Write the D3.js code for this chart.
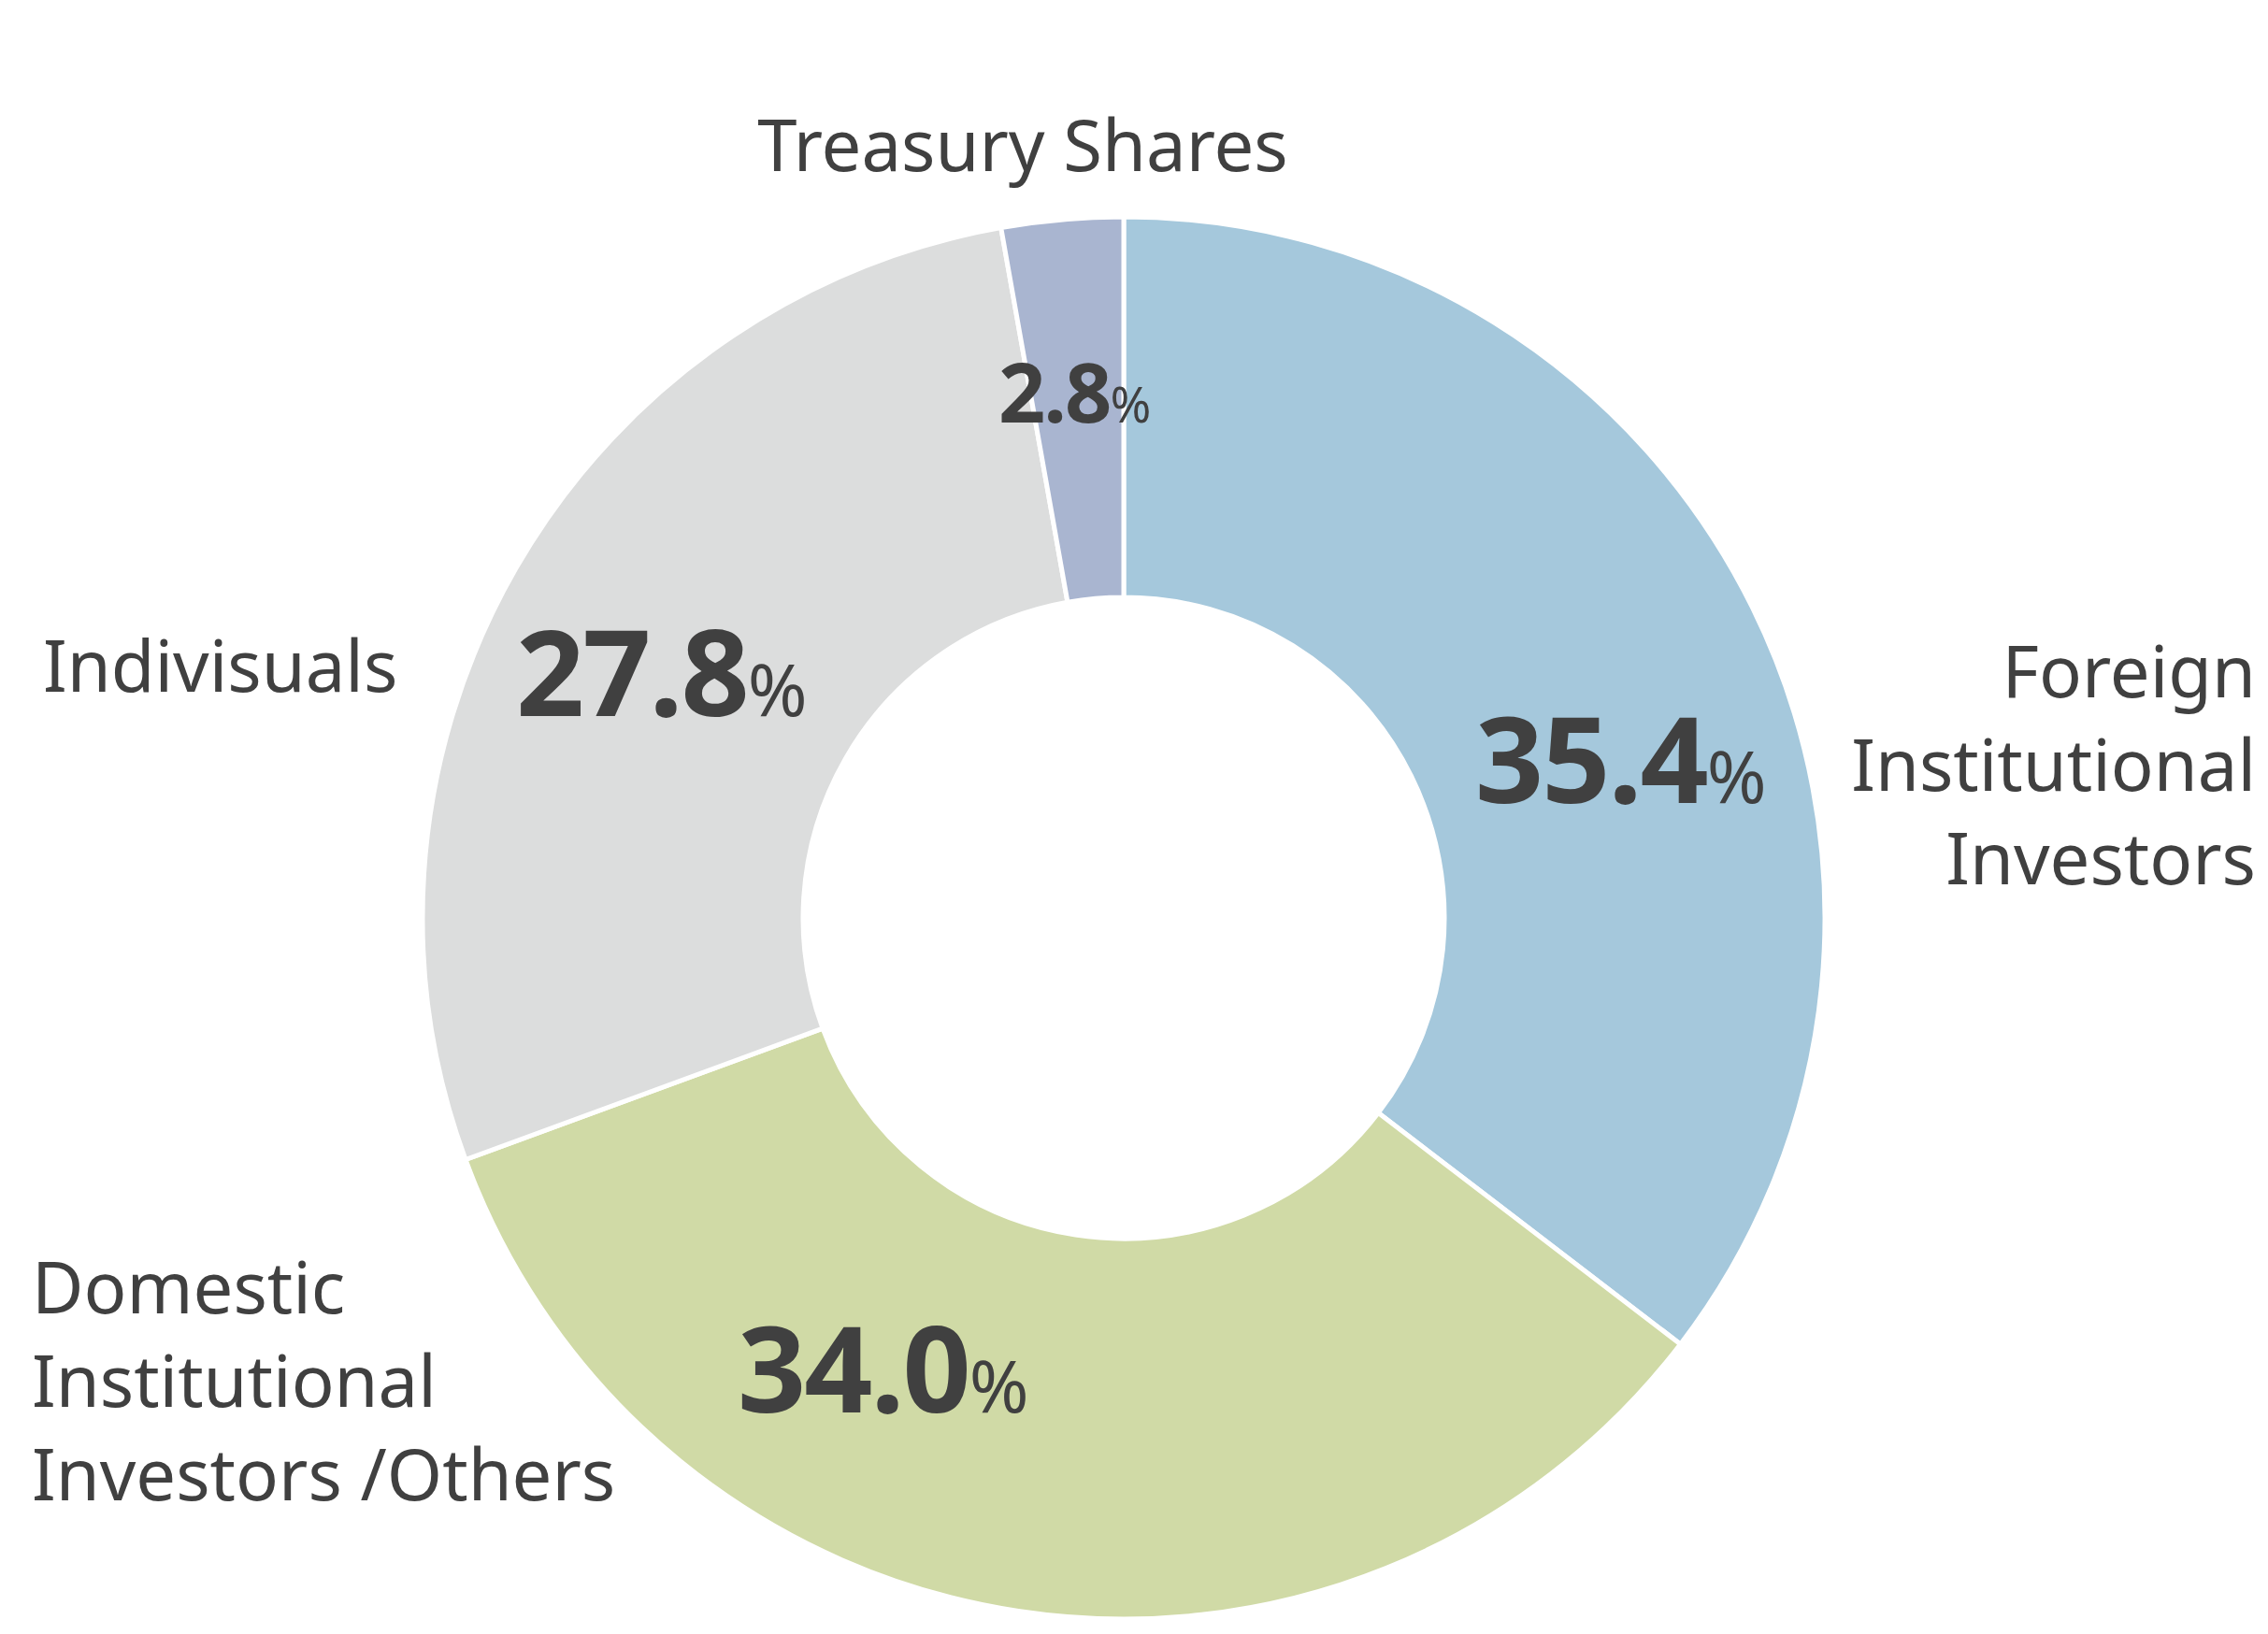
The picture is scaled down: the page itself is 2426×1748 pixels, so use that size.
<!DOCTYPE html>
<html><head><meta charset="utf-8">
<script src="https://cdn.jsdelivr.net/npm/d3@7"></script>
<style>body{margin:0;background:#fff}</style></head>
<body><svg id="c" width="2426" height="1748"></svg>
<script>
const categories = ["Foreign Institutional Investors","Domestic Institutional Investors /Others","Indivisuals","Treasury Shares"];
const values = [35.4, 34.0, 27.8, 2.8];
const valueLabels = ["35.4","34.0","27.8","2.8"];
const colors = ["#a5c8dc","#d0daa6","#dcdddd","#a9b5d0"];

const svg = d3.select("#c");
const cx = 1202, cy = 982, rO = 750, rI = 343;
const g = svg.append("g").attr("transform", `translate(${cx},${cy})`);
const pie = d3.pie().sort(null).value(d => d)(values);
const arc = d3.arc().innerRadius(rI).outerRadius(rO);
g.selectAll("path").data(pie).join("path")
  .attr("d", arc).attr("fill", (d,i) => colors[i])
  .attr("stroke", "#fff").attr("stroke-width", 5);

const font = "'Noto Sans', sans-serif", col = "#404040";
// category labels
const catPos = [
  {lines:["Foreign","Institutional","Investors"], x:2413, y:746, anchor:"end"},
  {lines:["Domestic","Institutional","Investors /Others"], x:34, y:1405, anchor:"start"},
  {lines:["Indivisuals"], x:46, y:740, anchor:"start"},
  {lines:["Treasury Shares"], x:1094, y:183, anchor:"middle"}
];
catPos.forEach(p => {
  const t = svg.append("text").attr("x", p.x).attr("y", p.y).attr("text-anchor", p.anchor)
    .attr("font-family", font).attr("font-size", 76).attr("fill", col);
  p.lines.forEach((l, i) => t.append("tspan").attr("x", p.x).attr("dy", i ? 100 : 0).text(l));
});
// value labels
const valPos = [
  {x:1578, y:859, s:128}, {x:789, y:1511, s:128}, {x:552, y:766, s:128}, {x:1068, y:452, s:88}
];
valPos.forEach((p, i) => {
  const t = svg.append("text").attr("x", p.x).attr("y", p.y)
    .attr("font-family", font).attr("font-weight", "bold").attr("fill", col);
  t.append("tspan").attr("font-size", p.s).attr("letter-spacing", -2).text(valueLabels[i]);
  t.append("tspan").attr("font-size", p.s * 0.6).attr("font-weight", "normal").text("%");
});
</script></body></html>
